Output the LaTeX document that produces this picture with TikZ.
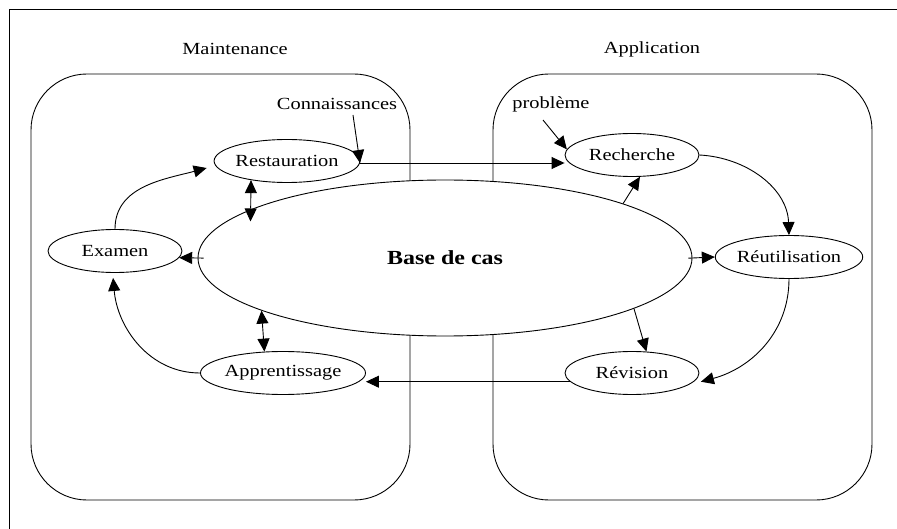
\documentclass[tikz,border=0pt]{standalone}
\usepackage{fontspec}
\setmainfont[FakeStretch=1.2]{Liberation Serif}
\usetikzlibrary{shapes.geometric,arrows.meta}

\tikzset{
  x=1pt, y=1pt,
  lbl/.style={font=\fontsize{17}{20}\selectfont, inner sep=0pt},
  oval/.style={ellipse, draw, fill=white, line width=0.9pt, inner sep=0pt,
    minimum width=134pt, minimum height=43pt, font=\fontsize{17}{20}\selectfont},
  zone/.style={draw, line width=0.9pt, rounded corners=56pt},
  tip/.style={Triangle[length=13pt,width=12pt]},
  arr/.style={line width=0.9pt, -{Triangle[length=13pt,width=12pt]}},
  dbl/.style={line width=0.9pt, {Triangle[length=13pt,width=12pt]}-{Triangle[length=13pt,width=12pt]}},
}

\begin{document}
\begin{tikzpicture}
\useasboundingbox (0,0) rectangle (897,-529);

% frame
\draw[line width=0.9pt] (9,-529) -- (9,-9) -- (897,-9);

% the two areas
\draw[zone] (31,-74) rectangle (410,-500);
\draw[zone] (493,-74) rectangle (872,-500);

\node[lbl] (maint) at (235,-49) {Maintenance};
\node[lbl] (appl) at (652,-49) {Application};

% central case base
\node[ellipse, draw, fill=white, line width=0.9pt, inner sep=0pt,
      minimum width=494pt, minimum height=156pt,
      font=\fontsize{20}{24}\selectfont\bfseries] (base) at (445,-258) {Base de cas};

% process steps
\node[oval] (rest) at (287,-161) {Restauration};
\node[oval] (rech) at (632,-155) {Recherche};
\node[oval] (ex)   at (115,-251) {Examen};
\node[oval, minimum width=148pt] (app) at (283,-373) {Apprentissage};
\node[oval] (reut) at (789,-257) {Réutilisation};
\node[oval] (rev)  at (632,-373) {Révision};

% inputs
\node[lbl] (conn) at (337,-104) {Connaissances};
\node[lbl] (prob) at (551,-104) {problème};
\coordinate (kstart) at (353,-115);
\coordinate (kjoin) at (360,-163);
\coordinate (pstart) at (543,-120);

\draw[arr] (kstart) -- (kjoin);
\draw[arr] (kjoin) -- (kjoin -| rech.west);
\draw[arr] (pstart) -- (rech.175);

% application cycle
\draw[arr] (rech.east) to[out=-3,in=92] (reut.north);
\draw[arr, shorten <=-4pt] (base.east) -- (reut.west);
\draw[arr] (reut.south) to[out=-90,in=15] ([xshift=7pt]rev.-8);
\draw[arr] (base.17) -- (rech.-70);
\draw[arr] (base.-15) -- (rev.56);
\draw[arr] (rev.188) -- (app.east |- rev.188);

% maintenance cycle
\draw[arr] (app.west) to[out=180,in=-85] ([yshift=-5pt]ex.-95);
\draw[arr] (ex.north) to[out=90,in=195] ([shift={(-7pt,-7pt)}]rest.west);
\draw[arr, shorten <=-6pt] (base.west) -- (ex.-6);
\draw[dbl] (rest.208) -- ([yshift=-12pt]base.166);
\draw[dbl] (base.196.5) -- (app.131);
\end{tikzpicture}
\end{document}
